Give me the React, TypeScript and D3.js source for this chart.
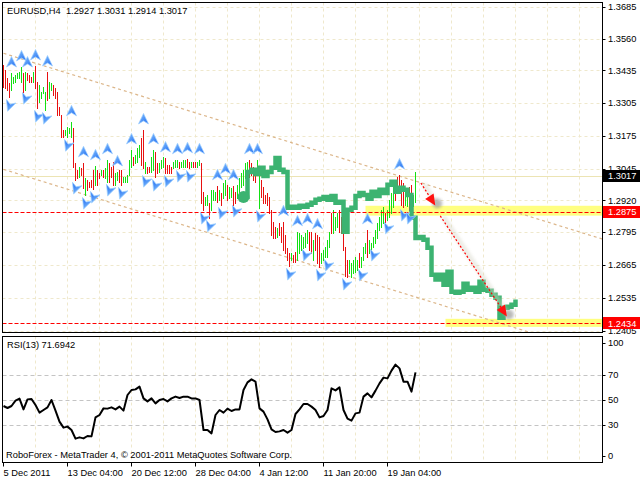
import { useEffect, useRef } from "react"
import * as d3 from "d3"

const header = "EURUSD,H4  1.2927 1.3031 1.2914 1.3017"
const rsiTitle = "RSI(13) 71.6942"
const copyright = "RoboForex - MetaTrader 4, © 2001-2011 MetaQuotes Software Corp."

const priceTicks = [1.3685, 1.356, 1.3435, 1.3305, 1.3175, 1.3045, 1.292, 1.2795, 1.2665, 1.2535, 1.2405]
const rsiTicks = [100, 70, 50, 30, 0]
const rsiLevels = [70, 50, 30]
const dateLabels = ["5 Dec 2011", "13 Dec 04:00", "20 Dec 12:00", "28 Dec 04:00", "4 Jan 12:00", "11 Jan 20:00", "19 Jan 04:00"]
const dateLabelBars = [0, 32, 64, 96, 128, 160, 192]

// H4 bars, one per index
const highs = [
  1.3456, 1.3436, 1.3405, 1.3385, 1.3424, 1.3408, 1.3416, 1.3424, 1.3428, 1.3448,
  1.3424, 1.3428, 1.3424, 1.3416, 1.3408, 1.3428, 1.3452, 1.3389, 1.3377, 1.3349,
  1.3369, 1.3349, 1.3428, 1.3389, 1.3385, 1.3377, 1.3365, 1.3349, 1.329, 1.3258,
  1.3199, 1.3199, 1.3211, 1.3207, 1.3231, 1.3207, 1.3069, 1.3041, 1.3053, 1.3049,
  1.3069, 1.301, 1.3002, 1.2994, 1.3002, 1.3041, 1.3057, 1.3041, 1.3029, 1.3041,
  1.3041, 1.3049, 1.3081, 1.3069, 1.3053, 1.3073, 1.3029, 1.3033, 1.3041, 1.3041,
  1.3013, 1.3013, 1.3021, 1.3081, 1.312, 1.3092, 1.31, 1.3128, 1.314, 1.3168,
  1.3199, 1.3073, 1.3053, 1.3053, 1.3092, 1.312, 1.3112, 1.3069, 1.3069, 1.3081,
  1.3092, 1.3088, 1.3061, 1.3061, 1.3053, 1.3073, 1.3081, 1.3081, 1.3073, 1.3073,
  1.3081, 1.3081, 1.3085, 1.3073, 1.3073, 1.3073, 1.3073, 1.3073, 1.3081, 1.3069,
  1.2954, 1.2934, 1.2942, 1.2911, 1.2962, 1.2962, 1.2954, 1.2978, 1.2962, 1.295,
  1.299, 1.3002, 1.2982, 1.2974, 1.297, 1.2978, 1.2954, 1.2982, 1.301, 1.3029,
  1.3041, 1.3069, 1.3073, 1.3081, 1.3069, 1.3053, 1.3049, 1.3081, 1.3041, 1.3002,
  1.2974, 1.2942, 1.295, 1.2934, 1.2883, 1.2836, 1.2816, 1.2812, 1.2832, 1.2816,
  1.2836, 1.2784, 1.2733, 1.2713, 1.2713, 1.2705, 1.2717, 1.2796, 1.2792, 1.2784,
  1.2776, 1.2792, 1.2804, 1.2796, 1.2796, 1.2765, 1.2792, 1.2784, 1.2776, 1.2713,
  1.2725, 1.2737, 1.2765, 1.2796, 1.2871, 1.2883, 1.2855, 1.2871, 1.2883, 1.2855,
  1.2816, 1.2737, 1.2686, 1.2686, 1.2674, 1.2686, 1.2697, 1.2686, 1.2713, 1.2697,
  1.2737, 1.2753, 1.2804, 1.2765, 1.2753, 1.2776, 1.2804, 1.2832, 1.2855, 1.2883,
  1.2895, 1.2871, 1.2883, 1.2923, 1.295, 1.2974, 1.2974, 1.3013, 1.3021, 1.3002,
  1.299, 1.2962, 1.2954, 1.2974, 1.2982, 1.2942, 1.3031,
]
const lows = [
  1.3369, 1.3365, 1.3357, 1.3329, 1.3357, 1.3385, 1.3389, 1.3404, 1.3404, 1.3389,
  1.3349, 1.3357, 1.3397, 1.3389, 1.3389, 1.3389, 1.3365, 1.3286, 1.331, 1.3325,
  1.3345, 1.3278, 1.3318, 1.3325, 1.3357, 1.3337, 1.3325, 1.3258, 1.3258, 1.3171,
  1.3171, 1.3179, 1.3171, 1.3187, 1.3171, 1.3053, 1.3002, 1.301, 1.3013, 1.3021,
  1.297, 1.2942, 1.2962, 1.2974, 1.2974, 1.2966, 1.2982, 1.2982, 1.301, 1.3021,
  1.3013, 1.301, 1.2994, 1.2994, 1.3013, 1.2982, 1.2982, 1.3002, 1.2994, 1.2982,
  1.2994, 1.2994, 1.2994, 1.3021, 1.3053, 1.3061, 1.3069, 1.3073, 1.3092, 1.3061,
  1.3049, 1.3029, 1.3029, 1.3033, 1.3033, 1.3041, 1.3013, 1.3029, 1.3033, 1.3049,
  1.3053, 1.3029, 1.3029, 1.3029, 1.3029, 1.3049, 1.3053, 1.3053, 1.3049, 1.3053,
  1.3053, 1.3053, 1.3053, 1.3049, 1.3053, 1.3053, 1.3053, 1.3053, 1.3061, 1.2911,
  1.2883, 1.2903, 1.2903, 1.2852, 1.2883, 1.2923, 1.2923, 1.2915, 1.2923, 1.2903,
  1.293, 1.2942, 1.2923, 1.293, 1.2934, 1.2903, 1.2911, 1.293, 1.2934, 1.2974,
  1.2982, 1.301, 1.3029, 1.3013, 1.3021, 1.3002, 1.2994, 1.3021, 1.2891, 1.2934,
  1.2911, 1.2911, 1.2903, 1.2871, 1.2784, 1.2772, 1.2772, 1.2776, 1.2784, 1.2757,
  1.2725, 1.2713, 1.2686, 1.2662, 1.2686, 1.2678, 1.2678, 1.2686, 1.2713, 1.2725,
  1.2733, 1.2737, 1.2753, 1.2725, 1.2713, 1.2686, 1.2725, 1.2674, 1.2658, 1.2674,
  1.2686, 1.2697, 1.2697, 1.2737, 1.2792, 1.2792, 1.2804, 1.2816, 1.2796, 1.2792,
  1.2725, 1.2622, 1.2618, 1.2634, 1.2618, 1.2634, 1.2638, 1.2646, 1.2658, 1.2658,
  1.2686, 1.2713, 1.2697, 1.2713, 1.2725, 1.2737, 1.2753, 1.2772, 1.2804, 1.2816,
  1.2832, 1.2836, 1.2844, 1.2855, 1.2871, 1.2895, 1.2923, 1.295, 1.297, 1.2903,
  1.2895, 1.2903, 1.2899, 1.2883, 1.2875, 1.2899, 1.2914,
]
// G = bullish bar, R = bearish bar
const barDirections =
  "RRRRGGGGGG" + "RGRRRGRRGG" + "GGRGGRRRRR" + "RGGGGRRRGR" + "RGRRRRGRRG" +
  "RGGRRRGGRR" + "GGGGGRGGGR" + "RGRRGGRRGG" + "GRRRRGGGRG" + "GGRRGRRGGR" +
  "RGGRGGGRGR" + "GGRGGRRGGG" + "GGGRRRRGGR" + "RRRRRRRGRR" + "RRRRGRRGGG" +
  "GGGRRGRRRG" + "GGGGRGGGRR" + "RRRGGGGGRG" + "GGRGGGGGGG" + "GRGGGGRRRR" +
  "RGGRRGG"

const upFractals = [4, 9, 12, 16, 22, 34, 40, 46, 52, 57, 64, 70, 75, 81, 87, 92, 98, 107, 111, 115, 123, 127, 140, 147, 152, 157, 182, 198]
const downFractals = [3, 11, 17, 21, 32, 36, 41, 45, 53, 59, 71, 76, 82, 88, 93, 100, 103, 109, 116, 128, 143, 151, 158, 162, 171, 179, 185, 192, 200, 203]

// RSI(13), one value every 2 bars
const rsiStep = 2
const rsiValues = [
  44.8, 43.2, 44.8, 49.1, 50.7, 42.1, 50.1, 50.4, 45.6, 39.5,
  41.6, 43.7, 49.6, 41.1, 32.3, 27.5, 28.3, 25.6, 18.7, 19.7,
  18.9, 20.8, 20.5, 35.7, 37.6, 42.9, 42.7, 43.7, 42.1, 44.3,
  41.1, 53.6, 57.6, 58.1, 60.3, 50.9, 48.5, 50.9, 46.9, 49.6,
  50.4, 48.5, 50.9, 52.3, 51.2, 52.3, 52.3, 50.9, 50.9, 49.6,
  25.6, 25.6, 22.9, 37.6, 41.6, 39.5, 42.7, 40.8, 42.1, 42.1,
  57.6, 63.7, 66.1, 64.3, 42.9, 40.3, 34.1, 26.1, 24.0, 24.5,
  25.6, 23.5, 25.6, 38.4, 42.1, 46.4, 46.4, 44.3, 41.6, 35.7,
  36.8, 41.6, 58.9, 57.3, 59.7, 41.6, 34.7, 33.1, 38.9, 39.5,
  52.3, 54.9, 51.7, 57.1, 62.9, 67.5, 66.9, 73.1, 77.9, 74.9,
  64.3, 64.3, 56.3, 71.7,
]

// projected pattern (green), one value every 2 bars from patternStartBar
const patternStartBar = 120
const patternStep = 2
const patternValues = [
  1.2934, 1.3033, 1.3041, 1.3025, 1.3049, 1.3017, 1.3033, 1.3049, 1.3088, 1.3041,
  1.3033, 1.2891, 1.2895, 1.2891, 1.2899, 1.2895, 1.2903, 1.2911, 1.2923, 1.2927,
  1.2934, 1.2923, 1.2938, 1.2911, 1.2915, 1.2796, 1.2883, 1.2891, 1.2938, 1.295,
  1.2942, 1.2927, 1.2954, 1.2938, 1.2962, 1.295, 1.2982, 1.2994, 1.2954, 1.297,
  1.2962, 1.2942, 1.2852, 1.2772, 1.2776, 1.2765, 1.2733, 1.2626, 1.2607, 1.2626,
  1.2587, 1.2638, 1.2559, 1.2555, 1.2559, 1.2591, 1.2567, 1.2575, 1.2559, 1.2599,
  1.2567, 1.2563, 1.2547, 1.2535, 1.2456, 1.2496, 1.25, 1.2508, 1.2528,
]

const levelPrices = [1.2875, 1.2434]
const zoneStartBars = [181, 221]
const zoneTops = [1.2899, 1.2452]
const zoneBottoms = [1.286, 1.242]

const channelBars = [0, 300]
const upperChannel = [1.3502, 1.2766]
const lowerChannel = [1.3043, 1.2308]

const signalFromBars = [208.7, 218.4]
const signalFromPrices = [1.2989, 1.2859]
const signalToBars = [215.9, 251.7]
const signalToPrices = [1.29, 1.2461]

const lastPrice = 1.3017

const FONT = "'Liberation Sans', Arial, sans-serif"

export default function App() {
  const svgRef = useRef<SVGSVGElement>(null)

  useEffect(() => {
    if (!svgRef.current) return
    const svg = d3.select(svgRef.current)
    svg.selectAll("*").remove()

    const left = 2.5
    const right = 602.5
    const mainTop = 2.5
    const mainBottom = 332.5
    const rsiTop = 336.5
    const rsiBottom = 462.5

    const x = d3.scaleLinear().domain([0, 300]).range([3.5, 603.5])
    const y = d3.scaleLinear().domain([1.2405, 1.3685]).range([330.7, 7])
    const yr = d3.scaleLinear().domain([0, 100]).range([462, 337])
    const crisp = (v: number) => Math.round(v) + 0.5

    const defs = svg.append("defs")
    defs.append("clipPath").attr("id", "main-clip")
      .append("rect").attr("x", 3).attr("y", 3).attr("width", 599).attr("height", 329)
    defs.append("clipPath").attr("id", "rsi-clip")
      .append("rect").attr("x", 3).attr("y", 337).attr("width", 599).attr("height", 125)
    defs.append("filter").attr("id", "soft").attr("x", "-50%").attr("y", "-50%").attr("width", "200%").attr("height", "200%")
      .append("feGaussianBlur").attr("stdDeviation", 1.6)
    const grad = defs.append("linearGradient").attr("id", "frac").attr("x1", 0).attr("y1", 0).attr("x2", 1).attr("y2", 1)
    grad.append("stop").attr("offset", "0%").attr("stop-color", "#8cc8ff")
    grad.append("stop").attr("offset", "100%").attr("stop-color", "#1a66f0")

    svg.append("rect").attr("width", 640).attr("height", 480).attr("fill", "#fff")

    // Grid
    const gridColor = "#efe8cc"
    const main = svg.append("g").attr("clip-path", "url(#main-clip)")
    main.selectAll(".hgrid").data(priceTicks).join("line")
      .attr("x1", left).attr("x2", right)
      .attr("y1", (d) => crisp(y(d))).attr("y2", (d) => crisp(y(d)))
      .attr("stroke", gridColor).attr("stroke-dasharray", "3,3")
    const vgrid = d3.range(16, 300, 16)
    main.selectAll(".vgrid").data(vgrid).join("line")
      .attr("x1", (d) => x(d)).attr("x2", (d) => x(d))
      .attr("y1", mainTop).attr("y2", mainBottom)
      .attr("stroke", gridColor).attr("stroke-dasharray", "3,3")

    // Zones
    main.selectAll(".zone").data(zoneStartBars).join("rect")
      .attr("x", (d) => x(d)).attr("width", (d) => right - x(d))
      .attr("y", (_, i) => y(zoneTops[i]))
      .attr("height", (_, i) => y(zoneBottoms[i]) - y(zoneTops[i]))
      .attr("fill", "#ffff80")

    // Bid line
    main.append("line")
      .attr("x1", left).attr("x2", right)
      .attr("y1", crisp(y(lastPrice))).attr("y2", crisp(y(lastPrice)))
      .attr("stroke", "#ece4b4")

    // Channel
    ;[upperChannel, lowerChannel].forEach((ch) => {
      main.append("line")
        .attr("x1", x(channelBars[0])).attr("y1", y(ch[0]))
        .attr("x2", x(channelBars[1])).attr("y2", y(ch[1]))
        .attr("stroke", "#dcb68a").attr("stroke-width", 1.2).attr("stroke-dasharray", "3,3")
    })

    // Bars
    main.selectAll(".bar").data(highs).join("line")
      .attr("x1", (_, i) => x(i)).attr("x2", (_, i) => x(i))
      .attr("y1", (d) => Math.round(y(d))).attr("y2", (_, i) => Math.round(y(lows[i])) + 1)
      .attr("stroke", (_, i) => (barDirections[i] === "G" ? "#12e012" : "#e81010"))
      .attr("stroke-width", 1)

    // Levels
    main.selectAll(".level").data(levelPrices).join("line")
      .attr("x1", left).attr("x2", right)
      .attr("y1", (d) => crisp(y(d))).attr("y2", (d) => crisp(y(d)))
      .attr("stroke", "#ff0000").attr("stroke-width", 1.2).attr("stroke-dasharray", "4,2")

    // Pattern projection
    const patternLine = d3.line<number>()
      .x((_, k) => x(patternStartBar + k * patternStep))
      .y((d) => y(d))
      .curve(d3.curveStepAfter)
    main.append("path").datum(patternValues)
      .attr("d", patternLine)
      .attr("fill", "none").attr("stroke", "#3cb371").attr("stroke-width", 4.5)

    // Fractals
    const arrowPath = "M0,-5.5 L5,5 L0,2 L-5,5 Z"
    main.selectAll(".up").data(upFractals).join("path")
      .attr("d", arrowPath)
      .attr("transform", (d) => `translate(${x(d)},${y(highs[d]) - 11})`)
      .attr("fill", "url(#frac)").attr("stroke", "#9fd0ff").attr("stroke-width", 0.7)
    main.selectAll(".down").data(downFractals).join("path")
      .attr("d", arrowPath)
      .attr("transform", (d) => `translate(${x(d)},${y(lows[d]) + 9}) rotate(200)`)
      .attr("fill", "url(#frac)").attr("stroke", "#9fd0ff").attr("stroke-width", 0.7)

    // Signal arrows
    signalFromBars.forEach((fb, i) => {
      const x0 = x(fb)
      const y0 = y(signalFromPrices[i])
      const x1 = x(signalToBars[i])
      const y1 = y(signalToPrices[i])
      const len = Math.hypot(x1 - x0, y1 - y0)
      const ux = (x1 - x0) / len
      const uy = (y1 - y0) / len
      const bx = x1 - ux * 11
      const by = y1 - uy * 11
      main.append("line")
        .attr("x1", x0 + 3).attr("y1", y0 + 1).attr("x2", x1 + 3).attr("y2", y1 + 1)
        .attr("stroke", "#d6d6c8").attr("stroke-width", 5).attr("opacity", 0.45)
        .attr("filter", "url(#soft)")
      main.append("circle")
        .attr("cx", x1 + 2).attr("cy", y1 - 2).attr("r", 5)
        .attr("fill", "#8a8a8a").attr("opacity", 0.55).attr("filter", "url(#soft)")
      main.append("line")
        .attr("x1", x0).attr("y1", y0).attr("x2", bx).attr("y2", by)
        .attr("stroke", "#ff0000").attr("stroke-width", 1.2).attr("stroke-dasharray", "2,2")
      main.append("path")
        .attr("d", `M${x1},${y1} L${bx - uy * 5},${by + ux * 5} L${bx + uy * 5},${by - ux * 5} Z`)
        .attr("fill", "#ff1010")
    })

    // Pattern start marker
    main.append("circle")
      .attr("cx", x(patternStartBar)).attr("cy", y(patternValues[0]))
      .attr("r", 6).attr("fill", "#3cb371")

    // RSI window
    const rsiG = svg.append("g").attr("clip-path", "url(#rsi-clip)")
    rsiG.selectAll(".vgrid").data(vgrid).join("line")
      .attr("x1", (d) => x(d)).attr("x2", (d) => x(d))
      .attr("y1", rsiTop).attr("y2", rsiBottom)
      .attr("stroke", gridColor).attr("stroke-dasharray", "3,3")
    rsiG.selectAll(".lvl").data(rsiLevels).join("line")
      .attr("x1", left).attr("x2", right)
      .attr("y1", (d) => crisp(yr(d))).attr("y2", (d) => crisp(yr(d)))
      .attr("stroke", "#c4c4c4").attr("stroke-dasharray", "4,3")
    const rsiLine = d3.line<number>()
      .x((_, k) => x(k * rsiStep))
      .y((d) => yr(d))
    rsiG.append("path").datum(rsiValues)
      .attr("d", rsiLine)
      .attr("fill", "none").attr("stroke", "#000").attr("stroke-width", 2)
      .attr("stroke-linejoin", "round")

    // Frames
    svg.append("rect").attr("x", left).attr("y", mainTop)
      .attr("width", right - left).attr("height", mainBottom - mainTop)
      .attr("fill", "none").attr("stroke", "#000")
    svg.append("rect").attr("x", left).attr("y", rsiTop)
      .attr("width", right - left).attr("height", rsiBottom - rsiTop)
      .attr("fill", "none").attr("stroke", "#000")

    const text = (g: d3.Selection<any, any, any, any>) =>
      g.style("font-family", FONT).style("font-size", "9.3px").attr("fill", "#000")

    // Price axis
    svg.selectAll(".ptick").data(priceTicks).join("line")
      .attr("x1", right).attr("x2", right + 3)
      .attr("y1", (d) => crisp(y(d))).attr("y2", (d) => crisp(y(d)))
      .attr("stroke", "#000")
    svg.selectAll(".plabel").data(priceTicks).join("text")
      .attr("x", 608).attr("y", (d) => y(d) + 3.4)
      .text((d) => d.toFixed(4))
      .call(text)

    // Marked prices on the axis
    const tags = [
      { price: lastPrice, bg: "#000" },
      { price: levelPrices[0], bg: "#ff0000" },
      { price: levelPrices[1], bg: "#ff0000" },
    ]
    tags.forEach((t) => {
      const cy = y(t.price)
      svg.append("rect").attr("x", 603).attr("y", Math.round(cy) - 6).attr("width", 37).attr("height", 12).attr("fill", t.bg)
      svg.append("text").attr("x", 608).attr("y", cy + 3.4).text(t.price.toFixed(4))
        .call(text).attr("fill", "#fff")
    })

    // RSI axis
    svg.selectAll(".rtick").data(rsiTicks).join("line")
      .attr("x1", right).attr("x2", right + 3)
      .attr("y1", (d) => crisp(Math.max(343, Math.min(456, yr(d))))).attr("y2", (d) => crisp(Math.max(343, Math.min(456, yr(d)))))
      .attr("stroke", "#000")
    svg.selectAll(".rlabel").data(rsiTicks).join("text")
      .attr("x", 608).attr("y", (d) => Math.max(343, Math.min(456, yr(d))) + 3.4)
      .text((d) => String(d))
      .call(text)

    // Time axis
    svg.selectAll(".ttick").data(dateLabelBars).join("line")
      .attr("x1", (d) => x(d)).attr("x2", (d) => x(d))
      .attr("y1", rsiBottom).attr("y2", rsiBottom + 4)
      .attr("stroke", "#000")
    svg.selectAll(".tlabel").data(dateLabels).join("text")
      .attr("x", (_, i) => x(dateLabelBars[i]))
      .attr("y", 476)
      .text((d) => d)
      .call(text)

    // Captions
    svg.append("text").attr("x", 7).attr("y", 14).style("white-space", "pre").text(header).call(text)
    svg.append("text").attr("x", 7).attr("y", 348).text(rsiTitle).call(text)
    svg.append("text").attr("x", 6).attr("y", 458).text(copyright).call(text)
  }, [])

  return (
    <svg
      ref={svgRef}
      width={640}
      height={480}
      style={{ position: "absolute", left: 0, top: 0, display: "block" }}
    />
  )
}
